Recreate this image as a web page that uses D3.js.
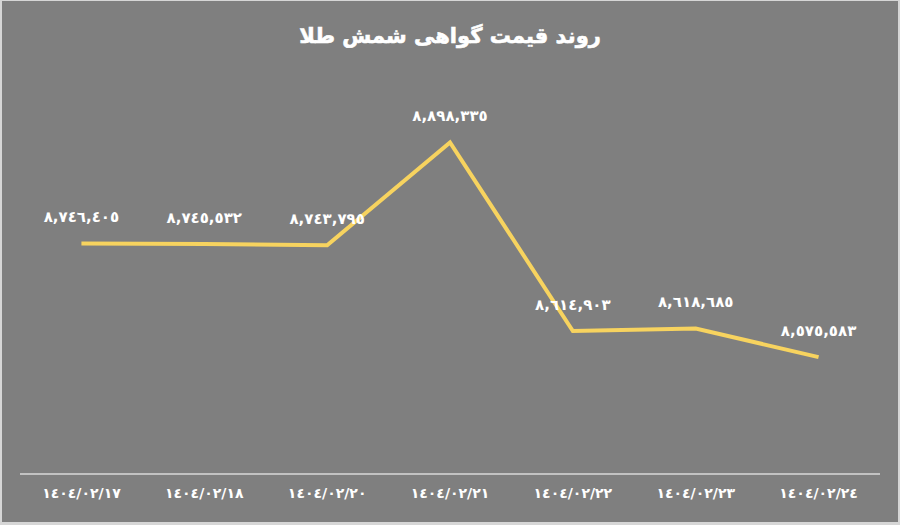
<!DOCTYPE html>
<html>
<head>
<meta charset="utf-8">
<script src="https://cdn.jsdelivr.net/npm/d3@7"></script>
<style>
  html, body { margin: 0; padding: 0; background: #d4d4d4; }
  svg { display: block; }
</style>
</head>
<body>
<svg id="chart" width="900" height="525"></svg>
<script>
// Données : prix du certificat de lingot d'or
const dates = ["١٤٠٤/٠٢/١٧", "١٤٠٤/٠٢/١٨", "١٤٠٤/٠٢/٢٠", "١٤٠٤/٠٢/٢١", "١٤٠٤/٠٢/٢٢", "١٤٠٤/٠٢/٢٣", "١٤٠٤/٠٢/٢٤"];
const prices = [8746405, 8745532, 8743795, 8898335, 8614903, 8618685, 8575583];
const titleText = "روند قیمت گواهی شمش طلا";

const toAr = s => String(s).replace(/\d/g, c => "٠١٢٣٤٥٦٧٨٩"[+c]);
const fontFam = "'DejaVu Sans', 'Noto Sans', sans-serif";

const svg = d3.select("#chart");
const W = 900, H = 525;

// fond + bordure claire
svg.append("rect").attr("x", 0).attr("y", 0).attr("width", W).attr("height", H).attr("fill", "#d6d6d6");
svg.append("rect").attr("x", 2).attr("y", 1).attr("width", W - 4).attr("height", H - 4).attr("fill", "#7f7f7f");

const margin = { left: 20, right: 20, top: 108, bottom: 51 };
const axisY = H - margin.bottom;

const x = d3.scaleBand().domain(dates).range([margin.left, W - margin.right]);
const y = d3.scaleLinear().domain([8400000, 8950000]).range([axisY, margin.top]);

// titre
svg.append("text").attr("x", W / 2).attr("y", 43).attr("text-anchor", "middle")
  .attr("direction", "rtl").attr("fill", "#ffffff").attr("font-family", fontFam)
  .attr("font-weight", "bold").attr("font-size", 21).attr("stroke", "#ffffff").attr("stroke-width", 0.6)
  .text(titleText);

// axe X
const xAxis = svg.append("g").attr("transform", `translate(0,${axisY})`)
  .call(d3.axisBottom(x).tickSize(0).tickPadding(14));
xAxis.select(".domain").attr("stroke", "#d9d9d9").attr("stroke-width", 1.5).attr("d", `M${margin.left},0H${W - margin.right}`);
xAxis.selectAll("text").attr("fill", "#ffffff").attr("font-family", fontFam)
  .attr("font-weight", "bold").attr("font-size", 14).attr("direction", "ltr");

// courbe
const cx = d => x(d) + x.bandwidth() / 2;
const pts = dates.map((d, i) => ({ date: d, price: prices[i] }));
const line = d3.line().x(d => cx(d.date)).y(d => y(d.price));
svg.append("path").datum(pts).attr("fill", "none").attr("stroke", "#f7d35f")
  .attr("stroke-width", 4).attr("stroke-linejoin", "miter").attr("d", line);

// étiquettes
svg.selectAll(".lbl").data(pts).join("text").attr("class", "lbl")
  .attr("x", d => cx(d.date)).attr("y", d => y(d.price) - 21)
  .attr("text-anchor", "middle").attr("direction", "ltr")
  .attr("fill", "#ffffff").attr("font-family", fontFam).attr("font-weight", "bold").attr("font-size", 15)
  .text(d => toAr(d3.format(",")(d.price)));
</script>
</body>
</html>
